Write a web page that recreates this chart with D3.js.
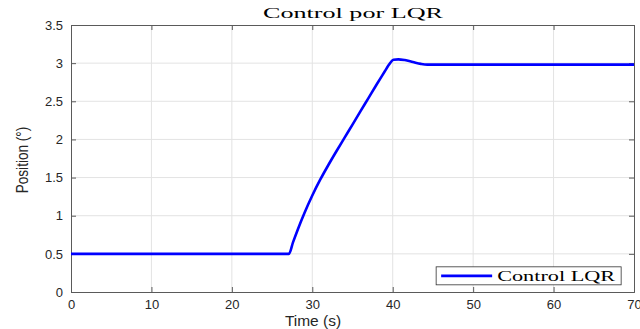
<!DOCTYPE html>
<html>
<head>
<meta charset="utf-8">
<script src="https://cdn.jsdelivr.net/npm/d3@7"></script>
<style>
  body { margin: 0; background: #fff; }
  svg { display: block; }
</style>
</head>
<body>
<div id="chart"></div>
<script>
// data
const timeS = [0, 27.1, 27.6, 28.2, 29, 30, 31, 32, 33, 34, 35, 36, 37, 38, 39, 39.5, 40.1, 40.7, 41.5, 42.5, 43.5, 44.3, 50, 60, 70];
const positionDeg = [0.5, 0.5, 0.65, 0.82, 1.03, 1.265, 1.475, 1.665, 1.845, 2.02, 2.195, 2.37, 2.545, 2.72, 2.89, 2.975, 3.045, 3.05, 3.04, 3.015, 2.99, 2.98, 2.98, 2.98, 2.98];
const xTicks = [0, 10, 20, 30, 40, 50, 60, 70];
const yTicks = [0, 0.5, 1, 1.5, 2, 2.5, 3, 3.5];

const width = 640, height = 329;
const margin = {top: 25, right: 6, bottom: 37, left: 71};
const innerW = width - margin.left - margin.right;
const innerH = height - margin.top - margin.bottom;

const svg = d3.select('#chart').append('svg')
  .attr('width', width).attr('height', height);

const g = svg.append('g')
  .attr('transform', 'translate(' + margin.left + ',' + margin.top + ')');

const x = d3.scaleLinear().domain([0, 70]).range([0, innerW]);
const y = d3.scaleLinear().domain([0, 3.5]).range([innerH, 0]);

// grid
g.append('g').selectAll('line').data(xTicks.slice(1, -1)).join('line')
  .attr('x1', d => x(d)).attr('x2', d => x(d))
  .attr('y1', 0).attr('y2', innerH)
  .attr('stroke', '#e3e3e3').attr('stroke-width', 1);
g.append('g').selectAll('line').data(yTicks.slice(1, -1)).join('line')
  .attr('y1', d => y(d)).attr('y2', d => y(d))
  .attr('x1', 0).attr('x2', innerW)
  .attr('stroke', '#e3e3e3').attr('stroke-width', 1);

// axes (box with inward ticks)
const axisColor = '#5a5a5a';
g.append('g').attr('transform', 'translate(0,' + innerH + ')')
  .call(d3.axisBottom(x).tickValues(xTicks).tickSize(-5).tickPadding(8).tickFormat(d3.format('d')));
g.append('g')
  .call(d3.axisLeft(y).tickValues(yTicks).tickSize(-5).tickPadding(8).tickFormat(d => d));
g.append('g').call(d3.axisTop(x).tickValues(xTicks).tickSize(-5).tickFormat(''));
g.append('g').attr('transform', 'translate(' + innerW + ',0)')
  .call(d3.axisRight(y).tickValues(yTicks).tickSize(-5).tickFormat(''));

g.selectAll('.domain').attr('stroke', axisColor);
g.selectAll('.tick line').attr('stroke', axisColor);
g.selectAll('.tick text')
  .attr('fill', '#262626')
  .style('font-family', '"Liberation Sans", Arial, sans-serif')
  .style('font-size', '13px');

// line
const line = d3.line()
  .x((d, i) => x(timeS[i]))
  .y(d => y(d))
  .curve(d3.curveMonotoneX);

g.append('path')
  .datum(positionDeg)
  .attr('d', line)
  .attr('fill', 'none')
  .attr('stroke', '#0000ff')
  .attr('stroke-width', 2.6)
  .attr('stroke-linejoin', 'round');

// title (the original figure is stretched horizontally)
svg.append('text')
  .attr('x', 263).attr('y', 18)
  .attr('textLength', 180).attr('lengthAdjust', 'spacingAndGlyphs')
  .style('font-family', '"Liberation Serif", "DejaVu Serif", serif')
  .style('font-size', '15.5px')
  .attr('fill', '#000')
  .text('Control por LQR');

// axis labels
svg.append('text')
  .attr('x', 313).attr('y', 326)
  .attr('text-anchor', 'middle')
  .style('font-family', '"Liberation Sans", Arial, sans-serif')
  .style('font-size', '15.5px')
  .attr('fill', '#262626')
  .text('Time (s)');

svg.append('text')
  .attr('transform', 'translate(28,160) rotate(-90) scale(0.8,1)')
  .attr('text-anchor', 'middle')
  .style('font-family', '"Liberation Sans", Arial, sans-serif')
  .style('font-size', '17px')
  .attr('fill', '#262626')
  .text('Position (°)');

// legend
const lg = g.append('g').attr('transform', 'translate(' + (x(45.4)) + ',' + (y(0.33)) + ')');
lg.append('rect')
  .attr('width', 185).attr('height', 18)
  .attr('fill', '#fff').attr('stroke', '#333').attr('stroke-width', 0.8);
lg.append('line')
  .attr('x1', 5).attr('x2', 56).attr('y1', 9).attr('y2', 9)
  .attr('stroke', '#0000ff').attr('stroke-width', 2.6);
lg.append('text')
  .attr('x', 61).attr('y', 14)
  .attr('textLength', 118).attr('lengthAdjust', 'spacingAndGlyphs')
  .style('font-family', '"Liberation Serif", "DejaVu Serif", serif')
  .style('font-size', '14px')
  .attr('fill', '#000')
  .text('Control LQR');
</script>
</body>
</html>
